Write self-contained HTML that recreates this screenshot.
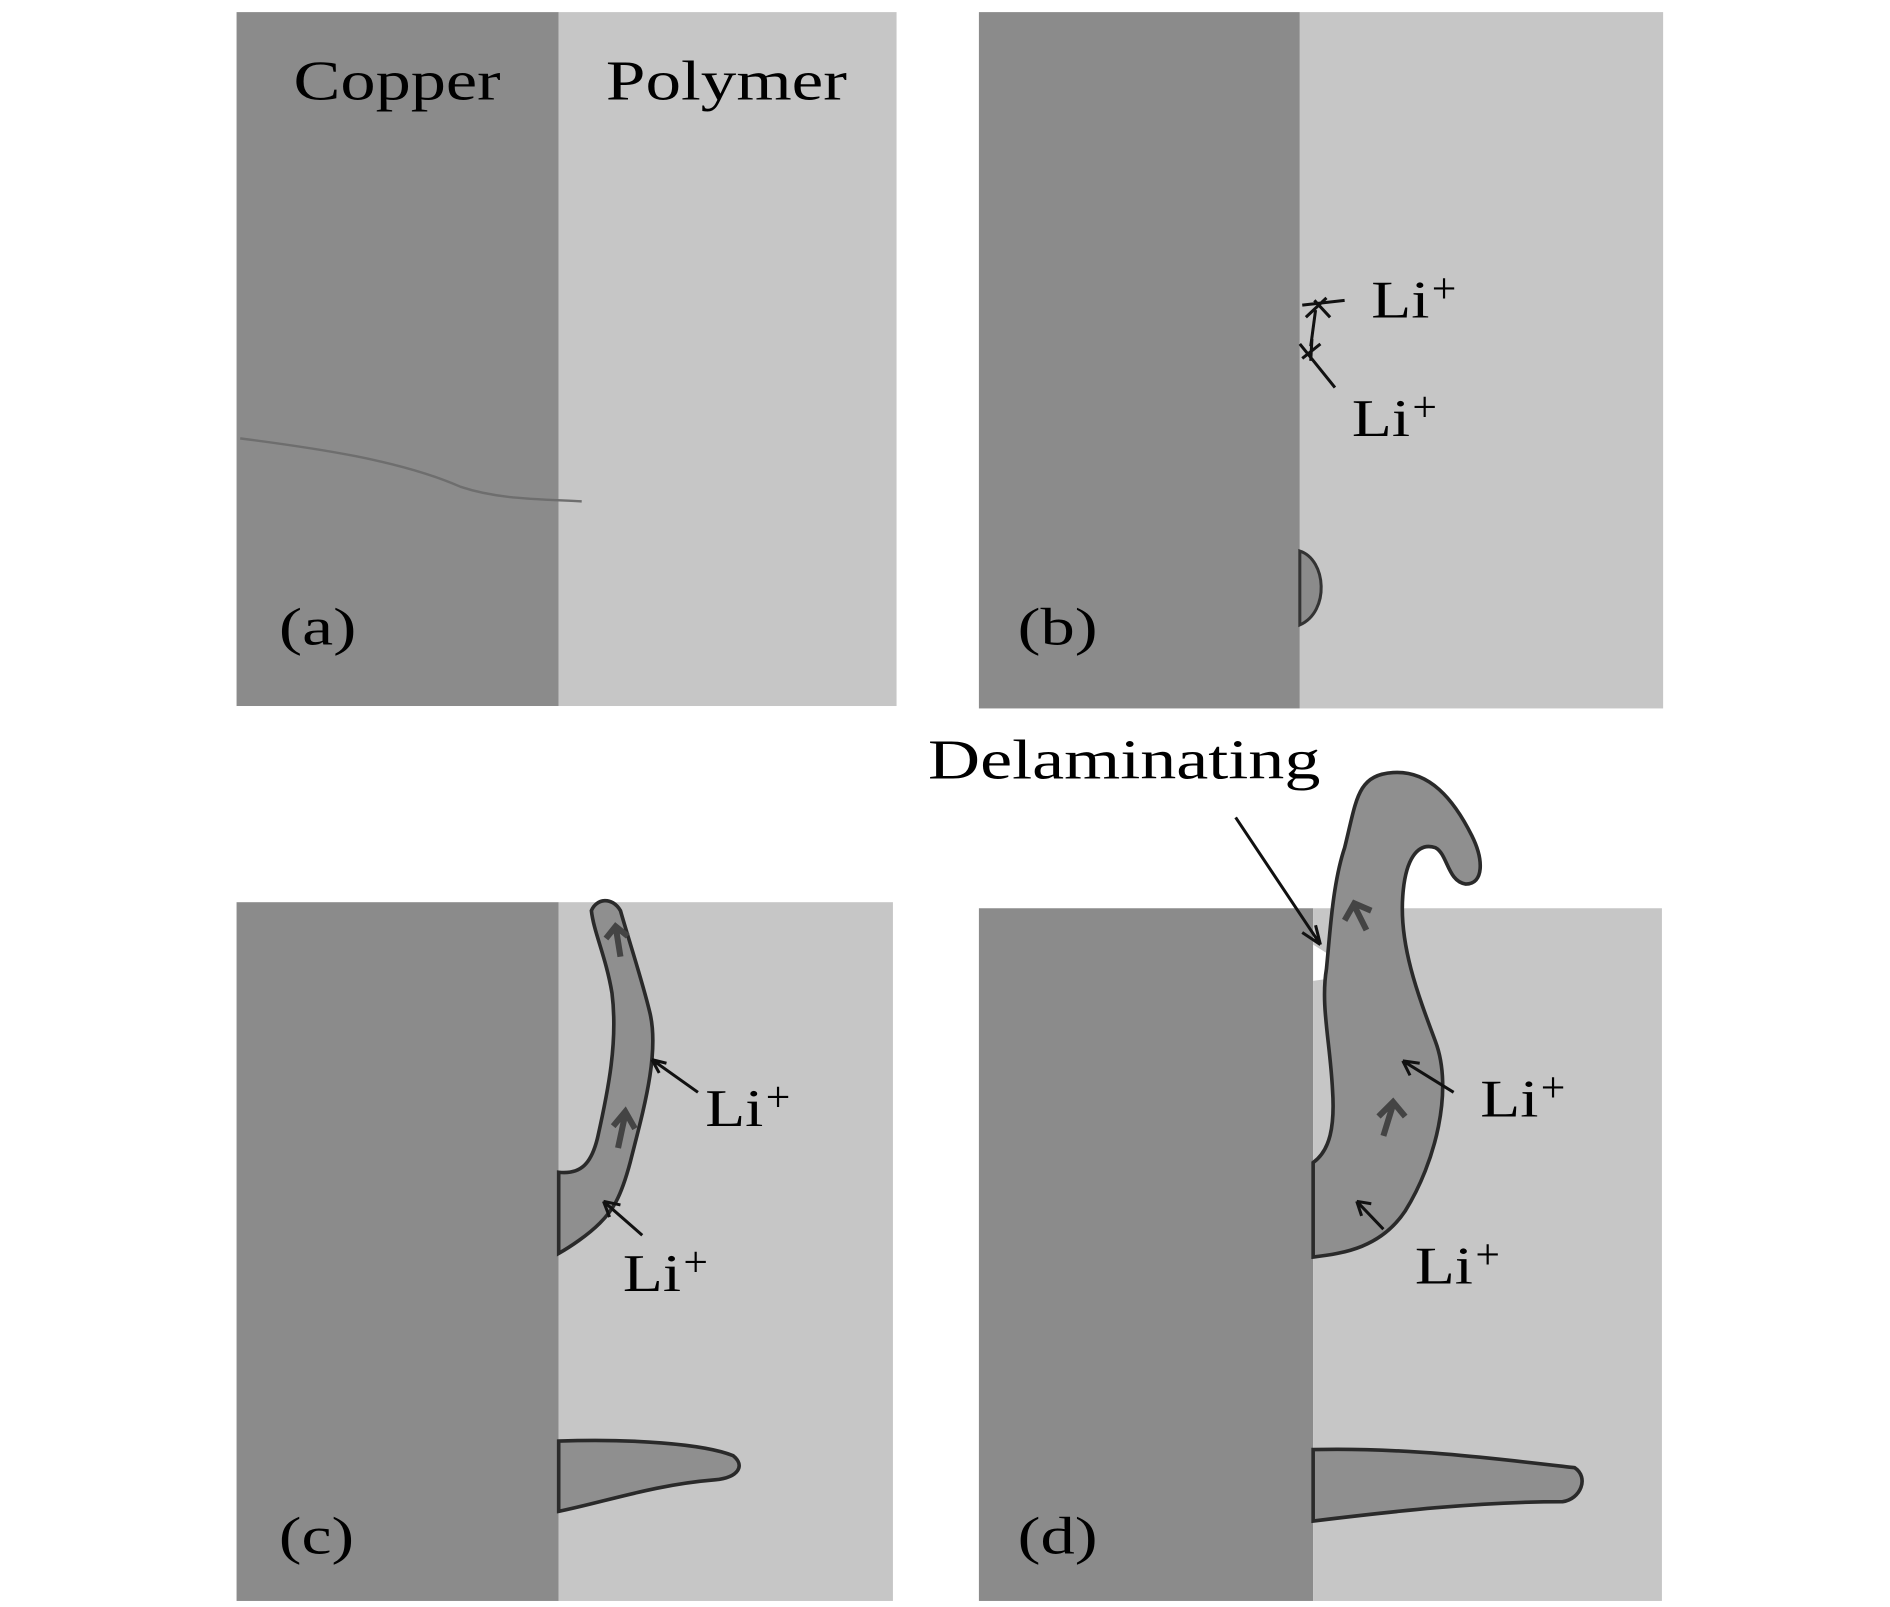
<!DOCTYPE html>
<html><head><style>html,body{margin:0;padding:0;background:#fff;}svg{display:block}</style></head>
<body>
<svg width="1890" height="1607" viewBox="0 0 1560 1327" xmlns="http://www.w3.org/2000/svg" font-family="Liberation Serif, serif">
<!-- (a) -->
<rect x="195" y="10" width="266" height="573" fill="#8b8b8b"/>
<rect x="461" y="10" width="279" height="573" fill="#c6c6c6"/>
<path d="M198 362 C260 370 330 380 380 402 C410 412 440 412 480 414" stroke="#6e6e6e" stroke-width="2" fill="none"/>
<text x="242" y="82" font-size="46" textLength="171" lengthAdjust="spacingAndGlyphs">Copper</text>
<text x="500" y="82" font-size="46" textLength="199" lengthAdjust="spacingAndGlyphs">Polymer</text>
<text x="230" y="532" font-size="44" textLength="64" lengthAdjust="spacingAndGlyphs">(a)</text>
<!-- (b) -->
<rect x="808" y="10" width="265" height="575" fill="#8b8b8b"/>
<rect x="1073" y="10" width="300" height="575" fill="#c6c6c6"/>
<path d="M1073 455 C1095 462 1098 505 1073 516 Z" fill="#8b8b8b" stroke="#333" stroke-width="2.5"/>
<g stroke="#111" stroke-width="2.5" fill="none">
<path d="M1075 252 L1110 248 M1085 248 L1098 262 M1078 262 L1095 246"/>
<path d="M1086 256 L1082 286"/>
<path d="M1073 284 L1102 320 M1075 296 L1090 284 M1083 280 L1082 298"/>
</g>
<text x="1132" y="262" font-size="44" textLength="48" lengthAdjust="spacingAndGlyphs">Li</text><text x="1182" y="250" font-size="36">+</text>
<text x="1116" y="360" font-size="44" textLength="48" lengthAdjust="spacingAndGlyphs">Li</text><text x="1166" y="348" font-size="36">+</text>
<text x="840" y="532" font-size="44" textLength="66" lengthAdjust="spacingAndGlyphs">(b)</text>
<!-- (c) -->
<rect x="195" y="745" width="266" height="577" fill="#8b8b8b"/>
<rect x="461" y="745" width="276" height="577" fill="#c6c6c6"/>
<path d="M461 968 C480 970 488 960 493 940 C502 900 510 860 505 820 C500 790 490 770 488 752 C492 742 505 740 512 752 C520 780 530 810 536 835 C545 870 530 920 520 960 C512 990 505 1000 495 1010 C485 1020 470 1030 461 1035 Z" fill="#8f8f8f" stroke="#2a2a2a" stroke-width="3"/>
<path d="M461 1190 C520 1188 580 1192 605 1202 C615 1210 610 1220 590 1222 C540 1226 500 1240 461 1248 Z" fill="#8f8f8f" stroke="#2a2a2a" stroke-width="3"/>
<g stroke="#444" stroke-width="5" fill="none">
<path d="M512 790 L508 765 M500 775 L508 765 L518 773"/>
<path d="M510 948 L516 920 M506 930 L516 918 L524 932"/>
</g>
<g stroke="#111" stroke-width="2.5" fill="none">
<path d="M576 902 L538 875 M538 875 L550 878 M538 875 L544 886"/>
<path d="M530 1020 L498 992 M498 992 L512 995 M498 992 L503 1005"/>
</g>
<text x="582" y="930" font-size="44" textLength="48" lengthAdjust="spacingAndGlyphs">Li</text><text x="632" y="918" font-size="36">+</text>
<text x="514" y="1066" font-size="44" textLength="48" lengthAdjust="spacingAndGlyphs">Li</text><text x="564" y="1054" font-size="36">+</text>
<text x="230" y="1283" font-size="44" textLength="62" lengthAdjust="spacingAndGlyphs">(c)</text>
<!-- (d) -->
<rect x="808" y="750" width="276" height="572" fill="#8b8b8b"/>
<rect x="1084" y="750" width="288" height="572" fill="#c6c6c6"/>
<path d="M1084 780 L1100 790 L1098 808 L1084 810 Z" fill="#fff"/>
<path d="M1084 960 C1098 950 1102 930 1100 900 C1098 860 1090 830 1095 800 C1098 770 1100 730 1110 700 C1120 660 1120 640 1150 638 C1180 636 1200 660 1215 690 C1225 710 1225 730 1210 730 C1195 728 1195 705 1185 700 C1170 695 1160 710 1158 740 C1155 780 1170 820 1185 860 C1200 900 1185 960 1160 1000 C1140 1030 1110 1035 1084 1038 Z" fill="#8f8f8f" stroke="#2a2a2a" stroke-width="3"/>
<path d="M1084 1197 C1160 1195 1240 1205 1300 1212 C1312 1220 1305 1238 1290 1240 C1220 1240 1150 1248 1084 1256 Z" fill="#8f8f8f" stroke="#2a2a2a" stroke-width="3"/>
<g stroke="#444" stroke-width="5" fill="none">
<path d="M1128 768 L1118 748 M1110 760 L1118 746 L1132 752"/>
<path d="M1142 938 L1150 912 M1138 922 L1150 910 L1160 922"/>
</g>
<g stroke="#111" stroke-width="2.5" fill="none">
<path d="M1020 675 L1090 780 M1090 780 L1075 770 M1090 780 L1086 764"/>
<path d="M1200 902 L1158 876 M1158 876 L1172 878 M1158 876 L1164 888"/>
<path d="M1142 1015 L1120 992 M1120 992 L1132 994 M1120 992 L1124 1004"/>
</g>
<text x="766" y="643" font-size="46" textLength="324" lengthAdjust="spacingAndGlyphs">Delaminating</text>
<text x="1222" y="922" font-size="44" textLength="48" lengthAdjust="spacingAndGlyphs">Li</text><text x="1272" y="910" font-size="36">+</text>
<text x="1168" y="1060" font-size="44" textLength="48" lengthAdjust="spacingAndGlyphs">Li</text><text x="1218" y="1048" font-size="36">+</text>
<text x="840" y="1283" font-size="44" textLength="66" lengthAdjust="spacingAndGlyphs">(d)</text>
</svg>
</body></html>
